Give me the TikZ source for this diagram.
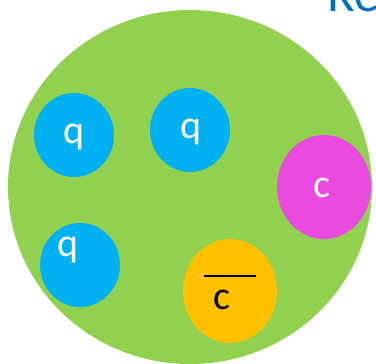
\documentclass[tikz,border=0pt]{standalone}
\usepackage{fontspec}
\setmainfont{Carlito}
\usetikzlibrary{shapes.geometric}
\definecolor{baggreen}{RGB}{146,208,80}
\definecolor{qblue}{RGB}{0,176,240}
\definecolor{cmag}{RGB}{232,74,224}
\definecolor{cbarorg}{RGB}{255,192,0}
\definecolor{ttlblue}{RGB}{0,112,192}
\tikzset{
  qball/.style={ellipse, fill=qblue, minimum width=80pt, minimum height=84pt, inner sep=0pt},
  cball/.style={ellipse, minimum width=94pt, minimum height=104pt, inner sep=0pt},
  lbl/.style={font=\fontsize{40}{44}\selectfont, inner sep=0pt},
}
\begin{document}
\begin{tikzpicture}[x=1pt,y=-1pt]
\useasboundingbox (0,0) rectangle (376,364);
% bag
\fill[baggreen] (190,187) ellipse [x radius=182, y radius=177];
\node[lbl, text=ttlblue, anchor=base west, font=\fontsize{51}{55}\selectfont] (ttl) at (327,12) {Re};
% quarks
\node[qball] (q1) at (74,135) {};
\node[qball] (q2) at (190,130) {};
\node[qball] (q3) at (80,265) {};
\node[lbl, text=white] (q1l) at (74,137) {q};
\node[lbl, text=white] (q2l) at (191,132) {q};
\node[lbl, text=white] (q3l) at (68,250) {q};
% charm pair
\node[cball, fill=cmag] (cc) at (324,187) {};
\node[lbl, text=white] (ccl) at (322,188) {c};
\node[cball, fill=cbarorg] (cb) at (230,291) {};
\node[lbl, text=black] (cbl) at (222,300) {c};
\draw[black, line width=2.2pt] (204,276) -- (256,276);
\end{tikzpicture}
\end{document}
